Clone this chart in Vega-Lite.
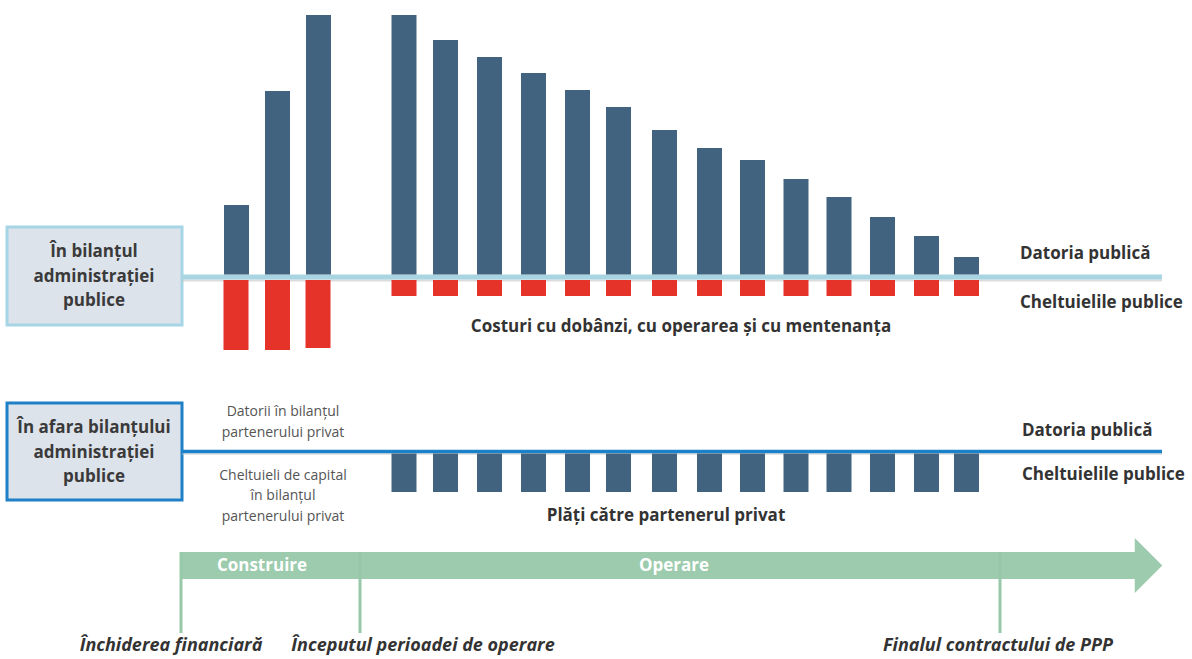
{
  "$schema": "https://vega.github.io/schema/vega-lite/v6.json",
  "width": 1192,
  "height": 659,
  "autosize": {"type": "none"},
  "padding": 0,
  "background": "#ffffff",
  "config": {"view": {"stroke": null}},
  "datasets": {
    "boxes": [
      {"panel": "on", "t": 7, "t2": 182, "v": 227, "v2": 325},
      {"panel": "off", "t": 7, "t2": 182, "v": 403, "v2": 500}
    ],
    "lines": [
      {"panel": "on", "t": 182, "t2": 1162, "v": 277},
      {"panel": "off", "t": 182, "t2": 1162, "v": 451.5}
    ],
    "shadows": [
      {"panel": "on", "t": 182, "t2": 1162, "v": 280.5},
      {"panel": "off", "t": 182, "t2": 1162, "v": 454}
    ],
    "debt": [
      {"phase": "Construire", "t": 236.5, "v": 205, "v2": 274.5},
      {"phase": "Construire", "t": 277.5, "v": 91, "v2": 274.5},
      {"phase": "Construire", "t": 318.5, "v": 15, "v2": 274.5},
      {"phase": "Operare", "t": 404, "v": 15, "v2": 274.5},
      {"phase": "Operare", "t": 445.5, "v": 40, "v2": 274.5},
      {"phase": "Operare", "t": 489.5, "v": 57, "v2": 274.5},
      {"phase": "Operare", "t": 533.5, "v": 73, "v2": 274.5},
      {"phase": "Operare", "t": 577.5, "v": 90, "v2": 274.5},
      {"phase": "Operare", "t": 618.5, "v": 107, "v2": 274.5},
      {"phase": "Operare", "t": 664.5, "v": 130, "v2": 274.5},
      {"phase": "Operare", "t": 709.5, "v": 148, "v2": 274.5},
      {"phase": "Operare", "t": 752.5, "v": 160, "v2": 274.5},
      {"phase": "Operare", "t": 796, "v": 179, "v2": 274.5},
      {"phase": "Operare", "t": 839, "v": 197, "v2": 274.5},
      {"phase": "Operare", "t": 882.5, "v": 217, "v2": 274.5},
      {"phase": "Operare", "t": 926.5, "v": 236, "v2": 274.5},
      {"phase": "Operare", "t": 966.5, "v": 257, "v2": 274.5}
    ],
    "spend": [
      {"phase": "Construire", "t": 236, "v": 280, "v2": 350},
      {"phase": "Construire", "t": 277.5, "v": 280, "v2": 350},
      {"phase": "Construire", "t": 318, "v": 280, "v2": 348},
      {"phase": "Operare", "t": 404, "v": 280, "v2": 296},
      {"phase": "Operare", "t": 445.5, "v": 280, "v2": 296},
      {"phase": "Operare", "t": 489.5, "v": 280, "v2": 296},
      {"phase": "Operare", "t": 533.5, "v": 280, "v2": 296},
      {"phase": "Operare", "t": 577.5, "v": 280, "v2": 296},
      {"phase": "Operare", "t": 618.5, "v": 280, "v2": 296},
      {"phase": "Operare", "t": 664.5, "v": 280, "v2": 296},
      {"phase": "Operare", "t": 709.5, "v": 280, "v2": 296},
      {"phase": "Operare", "t": 752.5, "v": 280, "v2": 296},
      {"phase": "Operare", "t": 796, "v": 280, "v2": 296},
      {"phase": "Operare", "t": 839, "v": 280, "v2": 296},
      {"phase": "Operare", "t": 882.5, "v": 280, "v2": 296},
      {"phase": "Operare", "t": 926.5, "v": 280, "v2": 296},
      {"phase": "Operare", "t": 966.5, "v": 280, "v2": 296}
    ],
    "payments": [
      {"t": 404, "v": 453.5, "v2": 492}, {"t": 445.5, "v": 453.5, "v2": 492}, {"t": 489.5, "v": 453.5, "v2": 492},
      {"t": 533.5, "v": 453.5, "v2": 492}, {"t": 577.5, "v": 453.5, "v2": 492}, {"t": 618.5, "v": 453.5, "v2": 492},
      {"t": 664.5, "v": 453.5, "v2": 492}, {"t": 709.5, "v": 453.5, "v2": 492}, {"t": 752.5, "v": 453.5, "v2": 492},
      {"t": 796, "v": 453.5, "v2": 492}, {"t": 839, "v": 453.5, "v2": 492}, {"t": 882.5, "v": 453.5, "v2": 492},
      {"t": 926.5, "v": 453.5, "v2": 492}, {"t": 966.5, "v": 453.5, "v2": 492}
    ],
    "band": [
      {"phase": "Construire-Operare", "t": 180, "t2": 1136, "v": 552, "v2": 579}
    ],
    "arrowhead": [
      {"phase": "arrow", "t": 1148.5, "v": 565.5}
    ],
    "milestones": [
      {"name": "Închiderea financiară", "t": 181, "v": 552, "v2": 633},
      {"name": "Începutul perioadei de operare", "t": 360, "v": 552, "v2": 633},
      {"name": "Finalul contractului de PPP", "t": 1000, "v": 552, "v2": 633}
    ],
    "boxText": [
      {"label": "În bilanțul", "t": 94, "v": 252},
      {"label": "administrației", "t": 94, "v": 277},
      {"label": "publice", "t": 94, "v": 301},
      {"label": "În afara bilanțului", "t": 94, "v": 428},
      {"label": "administrației", "t": 94, "v": 453},
      {"label": "publice", "t": 94, "v": 477}
    ],
    "noteText": [
      {"label": "Datorii în bilanțul", "t": 283, "v": 412},
      {"label": "partenerului privat", "t": 283, "v": 433},
      {"label": "Cheltuieli de capital", "t": 283, "v": 476},
      {"label": "în bilanțul", "t": 283, "v": 496},
      {"label": "partenerului privat", "t": 283, "v": 517}
    ],
    "sideText": [
      {"label": "Datoria publică", "t": 1020, "v": 254},
      {"label": "Cheltuielile publice", "t": 1020, "v": 303},
      {"label": "Datoria publică", "t": 1022, "v": 431},
      {"label": "Cheltuielile publice", "t": 1022, "v": 475}
    ],
    "centerText": [
      {"label": "Costuri cu dobânzi, cu operarea și cu mentenanța", "t": 681, "v": 327},
      {"label": "Plăți către partenerul privat", "t": 666, "v": 516}
    ],
    "phaseText": [
      {"label": "Construire", "t": 262, "v": 566},
      {"label": "Operare", "t": 674, "v": 566}
    ],
    "milestoneText": [
      {"label": "Închiderea financiară", "t": 171, "v": 646},
      {"label": "Începutul perioadei de operare", "t": 423, "v": 646},
      {"label": "Finalul contractului de PPP", "t": 998, "v": 646}
    ]
  },
  "encoding": {
    "x": {"field": "t", "type": "quantitative", "scale": {"domain": [0, 1192], "nice": false, "zero": false, "padding": 0}, "axis": null},
    "y": {"field": "v", "type": "quantitative", "scale": {"domain": [0, 659], "nice": false, "zero": false, "padding": 0, "reverse": true}, "axis": null}
  },
  "layer": [
    {
      "data": {"name": "boxes"},
      "transform": [{"filter": "datum.panel == 'on'"}],
      "mark": {"type": "rect", "fill": "#dde3ea", "stroke": "#a6d5e6", "strokeWidth": 3},
      "encoding": {"x2": {"field": "t2"}, "y2": {"field": "v2"}}
    },
    {
      "data": {"name": "boxes"},
      "transform": [{"filter": "datum.panel == 'off'"}],
      "mark": {"type": "rect", "fill": "#dde3ea", "stroke": "#1f80c8", "strokeWidth": 3},
      "encoding": {"x2": {"field": "t2"}, "y2": {"field": "v2"}}
    },
    {
      "data": {"name": "shadows"},
      "transform": [{"filter": "datum.panel == 'on'"}],
      "mark": {"type": "rule", "stroke": "#c4c4c4", "strokeWidth": 2, "opacity": 0.6},
      "encoding": {"x2": {"field": "t2"}}
    },
    {
      "data": {"name": "shadows"},
      "transform": [{"filter": "datum.panel == 'off'"}],
      "mark": {"type": "rule", "stroke": "#c4c4c4", "strokeWidth": 1.5, "opacity": 0.6},
      "encoding": {"x2": {"field": "t2"}}
    },
    {
      "data": {"name": "lines"},
      "transform": [{"filter": "datum.panel == 'on'"}],
      "mark": {"type": "rule", "stroke": "#a9d5e3", "strokeWidth": 5},
      "encoding": {"x2": {"field": "t2"}}
    },
    {
      "data": {"name": "lines"},
      "transform": [{"filter": "datum.panel == 'off'"}],
      "mark": {"type": "rule", "stroke": "#1b82c9", "strokeWidth": 3.5},
      "encoding": {"x2": {"field": "t2"}}
    },
    {
      "data": {"name": "debt"},
      "mark": {"type": "bar", "size": 25, "fill": "#41637f", "orient": "vertical"},
      "encoding": {"y2": {"field": "v2"}}
    },
    {
      "data": {"name": "spend"},
      "mark": {"type": "bar", "size": 25, "fill": "#e5332a", "orient": "vertical"},
      "encoding": {"y2": {"field": "v2"}}
    },
    {
      "data": {"name": "payments"},
      "mark": {"type": "bar", "size": 25, "fill": "#41637f", "orient": "vertical"},
      "encoding": {"y2": {"field": "v2"}}
    },
    {
      "data": {"name": "band"},
      "mark": {"type": "rect", "fill": "#9ccbad"},
      "encoding": {"x2": {"field": "t2"}, "y2": {"field": "v2"}}
    },
    {
      "data": {"name": "arrowhead"},
      "mark": {"type": "point", "shape": "M-0.5,-1L0.5,0L-0.5,1Z", "filled": true, "fill": "#9ccbad", "opacity": 1, "size": 3025, "strokeWidth": 0},
      "encoding": {}
    },
    {
      "data": {"name": "milestones"},
      "mark": {"type": "rule", "stroke": "#97c8a9", "strokeWidth": 3},
      "encoding": {"y2": {"field": "v2"}}
    },
    {
      "data": {"name": "boxText"},
      "mark": {"type": "text", "font": "Open Sans", "fontWeight": "bold", "fontSize": 17, "fill": "#3a3a3a", "align": "center", "baseline": "middle"},
      "encoding": {"text": {"field": "label"}}
    },
    {
      "data": {"name": "noteText"},
      "mark": {"type": "text", "font": "Open Sans", "fontSize": 14, "fill": "#555555", "align": "center", "baseline": "middle"},
      "encoding": {"text": {"field": "label"}}
    },
    {
      "data": {"name": "sideText"},
      "mark": {"type": "text", "font": "Open Sans", "fontWeight": "bold", "fontSize": 17, "fill": "#333333", "align": "left", "baseline": "middle"},
      "encoding": {"text": {"field": "label"}}
    },
    {
      "data": {"name": "centerText"},
      "mark": {"type": "text", "font": "Open Sans", "fontWeight": "bold", "fontSize": 17, "fill": "#333333", "align": "center", "baseline": "middle"},
      "encoding": {"text": {"field": "label"}}
    },
    {
      "data": {"name": "phaseText"},
      "mark": {"type": "text", "font": "Open Sans", "fontWeight": "bold", "fontSize": 17, "fill": "#ffffff", "align": "center", "baseline": "middle"},
      "encoding": {"text": {"field": "label"}}
    },
    {
      "data": {"name": "milestoneText"},
      "mark": {"type": "text", "font": "Open Sans", "fontWeight": "bold", "fontStyle": "italic", "fontSize": 18, "fill": "#333333", "align": "center", "baseline": "middle"},
      "encoding": {"text": {"field": "label"}}
    }
  ]
}
